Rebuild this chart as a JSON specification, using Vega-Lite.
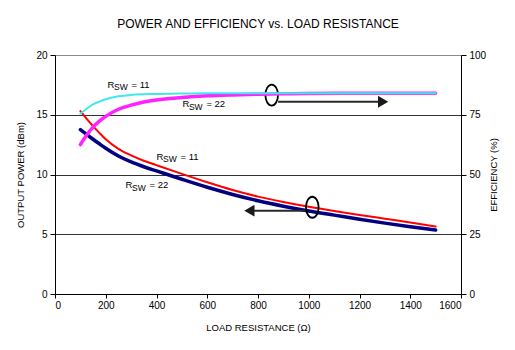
{
  "$schema": "https://vega.github.io/schema/vega-lite/v6.json",
  "width": 406,
  "height": 239,
  "autosize": {"type": "none"},
  "padding": {"left": 55, "top": 55, "right": 54, "bottom": 56},
  "background": "white",
  "title": {"text": "POWER AND EFFICIENCY vs. LOAD RESISTANCE", "fontSize": 12, "font": "Liberation Sans", "fontWeight": "normal", "color": "black", "offset": 19, "anchor": "middle"},
  "config": {
    "view": {"stroke": null},
    "font": "Liberation Sans",
    "axis": {"domainColor": "black", "tickColor": "black", "labelFont": "Liberation Sans", "labelFontSize": 10, "labelColor": "black", "titleFont": "Liberation Sans", "titleFontSize": 9.5, "titleFontWeight": "normal", "titleColor": "black", "tickSize": 5, "labelPadding": 3}
  },
  "datasets": {
    "p11": [
      {"R": 100, "P": 15.3}, {"R": 125, "P": 14.65}, {"R": 150, "P": 14.05}, {"R": 175, "P": 13.48}, {"R": 200, "P": 12.95},
      {"R": 250, "P": 12.15}, {"R": 300, "P": 11.6}, {"R": 350, "P": 11.15}, {"R": 400, "P": 10.78}, {"R": 500, "P": 10.05},
      {"R": 600, "P": 9.35}, {"R": 700, "P": 8.7}, {"R": 800, "P": 8.15}, {"R": 900, "P": 7.7}, {"R": 1000, "P": 7.3},
      {"R": 1100, "P": 6.95}, {"R": 1200, "P": 6.62}, {"R": 1300, "P": 6.3}, {"R": 1400, "P": 5.98}, {"R": 1500, "P": 5.65}
    ],
    "p22": [
      {"R": 100, "P": 13.75}, {"R": 125, "P": 13.35}, {"R": 150, "P": 12.95}, {"R": 175, "P": 12.57}, {"R": 200, "P": 12.2},
      {"R": 250, "P": 11.55}, {"R": 300, "P": 11.05}, {"R": 350, "P": 10.65}, {"R": 400, "P": 10.3}, {"R": 500, "P": 9.6},
      {"R": 600, "P": 8.93}, {"R": 700, "P": 8.33}, {"R": 800, "P": 7.8}, {"R": 900, "P": 7.35}, {"R": 1000, "P": 6.95},
      {"R": 1100, "P": 6.6}, {"R": 1200, "P": 6.25}, {"R": 1300, "P": 5.93}, {"R": 1400, "P": 5.63}, {"R": 1500, "P": 5.35}
    ],
    "e11": [
      {"R": 100, "E": 75.5}, {"R": 125, "E": 77.5}, {"R": 150, "E": 79.3}, {"R": 175, "E": 80.5}, {"R": 200, "E": 81.5},
      {"R": 250, "E": 82.7}, {"R": 300, "E": 83.3}, {"R": 400, "E": 83.7}, {"R": 500, "E": 83.9}, {"R": 600, "E": 84.0},
      {"R": 800, "E": 84.0}, {"R": 1000, "E": 84.0}, {"R": 1200, "E": 84.0}, {"R": 1500, "E": 84.0}
    ],
    "e22": [
      {"R": 100, "E": 62.5}, {"R": 125, "E": 66.5}, {"R": 150, "E": 69.8}, {"R": 175, "E": 72.3}, {"R": 200, "E": 74.3},
      {"R": 250, "E": 77.3}, {"R": 300, "E": 79.0}, {"R": 350, "E": 80.3}, {"R": 400, "E": 81.2}, {"R": 500, "E": 82.2},
      {"R": 600, "E": 82.9}, {"R": 700, "E": 83.3}, {"R": 800, "E": 83.6}, {"R": 900, "E": 83.8}, {"R": 1000, "E": 83.9},
      {"R": 1200, "E": 84.0}, {"R": 1500, "E": 84.0}
    ],
    "arrows": [
      {"R": 879, "R2": 1293, "P": 16.09},
      {"R": 989, "R2": 766, "P": 6.97}
    ],
    "heads": [
      {"R": 1293, "P": 16.09, "dir": "right"},
      {"R": 766, "P": 6.97, "dir": "left"}
    ],
    "rings": [
      {"R": 854, "P": 16.65},
      {"R": 1014, "P": 7.26}
    ],
    "labels": [
      {"R": 207, "P": 17.49, "eq": "= 11"},
      {"R": 502, "P": 15.87, "eq": "= 22"},
      {"R": 400, "P": 11.49, "eq": "= 11"},
      {"R": 278, "P": 9.12, "eq": "= 22"}
    ]
  },
  "encoding": {
    "x": {"field": "R", "type": "quantitative", "title": "LOAD RESISTANCE (Ω)", "scale": {"domain": [0, 1600]},
      "axis": {"values": [0, 200, 400, 600, 800, 1000, 1200, 1400, 1600], "format": "d", "grid": false, "tickSize": 4, "labelPadding": 2, "titlePadding": 12}}
  },
  "layer": [
    {
      "encoding": {
        "y": {"field": "P", "type": "quantitative", "title": "OUTPUT POWER (dBm)", "scale": {"domain": [0, 20]},
          "axis": {"values": [0, 5, 10, 15, 20], "grid": true, "gridColor": {"condition": {"test": "datum.value == 20", "value": "#8a8a8a"}, "value": "#333333"}, "gridWidth": 1.2, "titlePadding": 10}}
      },
      "layer": [
        {"data": {"name": "p22"}, "mark": {"type": "line", "color": "#000080", "strokeWidth": 3.5, "interpolate": "monotone", "strokeCap": "round"}},
        {"data": {"name": "p11"}, "mark": {"type": "line", "color": "#ff0000", "strokeWidth": 2, "interpolate": "monotone", "strokeCap": "round"}},
        {"data": {"name": "arrows"}, "mark": {"type": "rule", "color": "#2a2a2a", "strokeWidth": 2}, "encoding": {"x2": {"field": "R2"}}},
        {"data": {"name": "heads"}, "mark": {"type": "point", "filled": true, "color": "#1a1a1a", "size": 140, "opacity": 1},
          "encoding": {"shape": {"field": "dir", "type": "nominal", "scale": {"domain": ["right", "left"], "range": ["triangle-right", "triangle-left"]}, "legend": null}}},
        {"data": {"name": "rings"}, "mark": {"type": "point", "filled": false, "stroke": "black", "strokeWidth": 1.8, "size": 441, "opacity": 1, "shape": "M0,-1A0.6,1,0,1,1,0,1A0.6,1,0,1,1,0,-1Z"}},
        {"data": {"name": "labels"}, "mark": {"type": "text", "text": "R", "align": "left", "baseline": "middle", "fontSize": 9.5, "color": "black"}},
        {"data": {"name": "labels"}, "mark": {"type": "text", "text": "SW", "align": "left", "baseline": "middle", "fontSize": 8.5, "dx": 6.5, "dy": 2.5, "color": "black"}},
        {"data": {"name": "labels"}, "mark": {"type": "text", "align": "left", "baseline": "middle", "fontSize": 9.5, "dx": 24, "color": "black"}, "encoding": {"text": {"field": "eq"}}}
      ]
    },
    {
      "encoding": {
        "y": {"field": "E", "type": "quantitative", "title": "EFFICIENCY (%)", "scale": {"domain": [0, 100]},
          "axis": {"orient": "right", "values": [0, 25, 50, 75, 100], "grid": false, "titleAngle": 270, "titlePadding": 13}}
      },
      "layer": [
        {"data": {"name": "e22"}, "mark": {"type": "line", "color": "#ff22ff", "strokeWidth": 3.5, "interpolate": "monotone", "strokeCap": "round"}},
        {"data": {"name": "e11"}, "mark": {"type": "line", "color": "#40e8ee", "strokeWidth": 2, "interpolate": "monotone", "strokeCap": "round"}}
      ]
    }
  ],
  "resolve": {"scale": {"y": "independent"}}
}
